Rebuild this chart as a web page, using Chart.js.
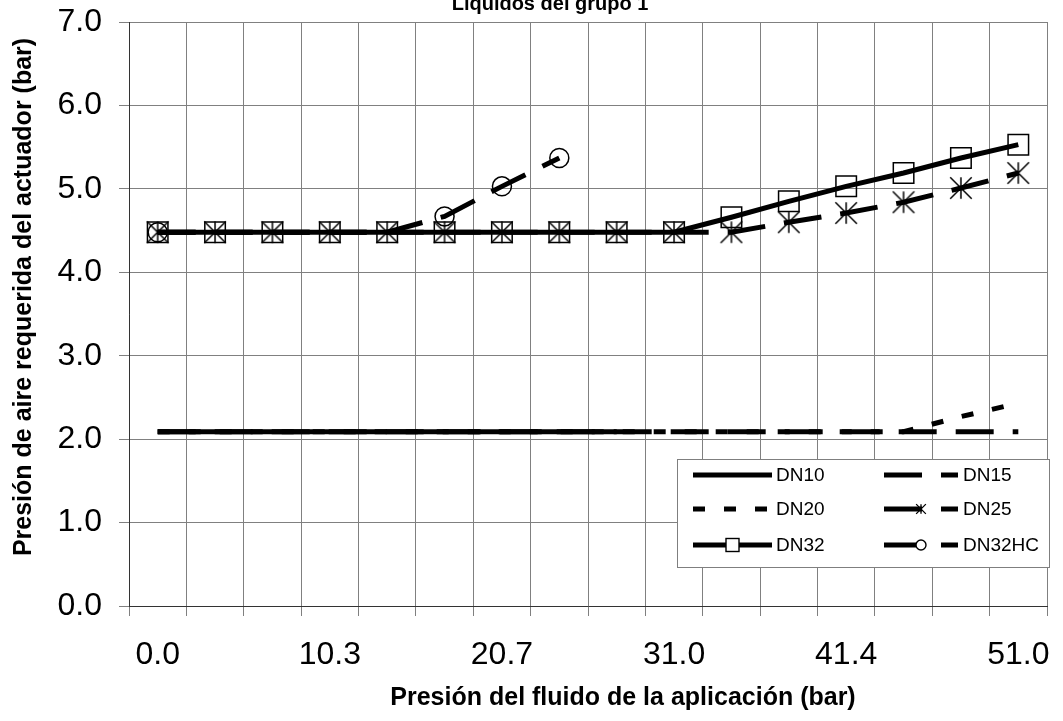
<!DOCTYPE html>
<html>
<head>
<meta charset="utf-8">
<script src="https://cdn.jsdelivr.net/npm/chart.js@4.4.1/dist/chart.umd.min.js"></script>
<style>
html,body{margin:0;padding:0;background:#fff;}
#wrap{width:1063px;height:721px;position:relative;}
canvas{display:block;}
</style>
</head>
<body>
<div id="wrap"><canvas id="c" width="1063" height="721"></canvas></div>
<script>
// ---- data ----
const categories = ['0.0','3.4','6.9','10.3','13.8','17.2','20.7','24.1','27.6','31.0','34.5','37.9','41.4','44.8','48.3','51.0'];
const labelEvery = 3;
const yTickValues = [0,1,2,3,4,5,6,7];
const seriesNames = ['DN10','DN15','DN20','DN25','DN32','DN32HC'];
const dn10   = [2.09,2.09,2.09,2.09,2.09,2.09,2.09,2.09,2.09,null,null,null,null,null,null,null];
const dn15   = [2.09,2.09,2.09,2.09,2.09,2.09,2.09,2.09,2.09,2.09,2.09,2.09,2.09,2.09,2.09,2.09];
const dn20   = [2.09,2.09,2.09,2.09,2.09,2.09,2.09,2.09,2.09,2.09,2.09,2.09,2.09,2.09,2.27,2.43];
const dn25   = [4.48,4.48,4.48,4.48,4.48,4.48,4.48,4.48,4.48,4.48,4.48,4.60,4.71,4.84,5.01,5.19];
const dn32   = [4.48,4.48,4.48,4.48,4.48,4.48,4.48,4.48,4.48,4.48,4.66,4.85,5.03,5.19,5.37,5.53];
const dn32hc = [4.48,4.48,4.48,4.48,4.48,4.67,5.03,5.37,null,null,null,null,null,null,null,null];
const chartTitle = 'Líquidos del grupo 1';
const xTitle = 'Presión del fluido de la aplicación (bar)';
const yTitle = 'Presión de aire requerida del actuador (bar)';

const FONT = '"Liberation Sans", Arial, Helvetica, sans-serif';

function makeAsterisk(size, lw) {
  const cv = document.createElement('canvas');
  cv.width = size; cv.height = size;
  const g = cv.getContext('2d');
  g.strokeStyle = '#000'; g.lineWidth = lw;
  const m = lw / 2 + 0.5, s = size;
  g.beginPath();
  g.moveTo(s / 2, m); g.lineTo(s / 2, s - m);
  g.moveTo(m, m); g.lineTo(s - m, s - m);
  g.moveTo(s - m, m); g.lineTo(m, s - m);
  g.stroke();
  return cv;
}
const asteriskBig = makeAsterisk(24, 1.5);
const asteriskSmall = makeAsterisk(12, 1.3);

const LONG_DASH = [38, 19];
const SHORT_DASH = [12, 19];

function lineDs(label, data, dash, extra) {
  return Object.assign({
    label, data,
    borderColor: '#000', borderWidth: 5, borderDash: dash, borderCapStyle: 'butt', borderJoinStyle: 'miter',
    tension: 0, fill: false, spanGaps: false,
    pointRadius: 0, pointHoverRadius: 0,
    pointBorderColor: '#000', pointBackgroundColor: 'rgba(0,0,0,0)', pointBorderWidth: 1.5
  }, extra || {});
}

const datasets = [
  lineDs(seriesNames[0], dn10, []),
  lineDs(seriesNames[1], dn15, LONG_DASH),
  lineDs(seriesNames[2], dn20, SHORT_DASH),
  lineDs(seriesNames[3], dn25, LONG_DASH, {pointStyle: asteriskBig, pointRadius: 12, legendMarker: asteriskSmall}),
  lineDs(seriesNames[4], dn32, [], {pointStyle: 'rect', pointRadius: 14.5, legendMarker: 'rect'}),
  lineDs(seriesNames[5], dn32hc, LONG_DASH, {pointStyle: 'circle',
    pointRadius: dn32hc.map((v, i) => (i === 0 || i >= 5) ? 9.5 : 0), legendMarker: 'circle'})
];

const legendPlugin = {
  id: 'boxLegend',
  afterDatasetsDraw(chart) {
    const ctx = chart.ctx;
    const bx = 677, by = 459, bw = 372, bh = 108;
    ctx.save();
    ctx.fillStyle = '#fff';
    ctx.fillRect(bx, by, bw, bh);
    ctx.strokeStyle = '#7f7f7f'; ctx.lineWidth = 1;
    ctx.strokeRect(bx + 0.5, by + 0.5, bw, bh);
    const colX = [693, 884], colW = [79, 74], textX = [776, 963], rowY = [475, 509, 545];
    chart.data.datasets.forEach((ds, i) => {
      const c = i % 2, r = Math.floor(i / 2);
      const x0 = colX[c], x1 = x0 + colW[c], y = rowY[r];
      ctx.save();
      ctx.strokeStyle = '#000'; ctx.lineWidth = 5; ctx.lineCap = 'butt';
      ctx.setLineDash(ds.borderDash || []);
      ctx.beginPath(); ctx.moveTo(x0, y); ctx.lineTo(x1, y); ctx.stroke();
      ctx.setLineDash([]);
      const cx = (x0 + x1) / 2;
      if (ds.legendMarker === 'rect') {
        ctx.fillStyle = '#fff'; ctx.lineWidth = 1.4;
        ctx.fillRect(cx - 6.5, y - 6.5, 13, 13);
        ctx.strokeRect(cx - 6.5, y - 6.5, 13, 13);
      } else if (ds.legendMarker === 'circle') {
        ctx.fillStyle = '#fff'; ctx.lineWidth = 1.4;
        ctx.beginPath(); ctx.arc(cx, y, 5, 0, Math.PI * 2); ctx.fill(); ctx.stroke();
      } else if (ds.legendMarker) {
        ctx.drawImage(ds.legendMarker, cx - ds.legendMarker.width / 2, y - ds.legendMarker.height / 2);
      }
      ctx.restore();
      ctx.fillStyle = '#000';
      ctx.font = '19px ' + FONT;
      ctx.textAlign = 'left'; ctx.textBaseline = 'middle';
      ctx.fillText(ds.label, textX[c], y + 1);
    });
    ctx.restore();
  }
};

const titlesPlugin = {
  id: 'titlesText',
  afterDraw(chart) {
    const ctx = chart.ctx;
    ctx.save();
    ctx.fillStyle = '#000';
    ctx.textAlign = 'center';
    ctx.font = 'bold 20px ' + FONT;
    ctx.textBaseline = 'alphabetic';
    ctx.fillText(chartTitle, 550, 10);
    ctx.font = 'bold 25px ' + FONT;
    ctx.textBaseline = 'middle';
    ctx.fillText(xTitle, 623, 698);
    ctx.translate(24, 297);
    ctx.rotate(-Math.PI / 2);
    ctx.fillText(yTitle, 0, 0);
    ctx.restore();
  }
};

function zeroPad(s) { s.paddingTop = 0; s.paddingBottom = 0; s.paddingLeft = 0; s.paddingRight = 0; }

new Chart(document.getElementById('c'), {
  type: 'line',
  data: { labels: categories, datasets },
  options: {
    responsive: false,
    animation: false,
    devicePixelRatio: 1,
    layout: { padding: { top: 22, right: 11, left: 0, bottom: 0 } },
    plugins: { legend: { display: false }, title: { display: false }, tooltip: { enabled: false } },
    scales: {
      x: {
        type: 'category',
        offset: true,
        grid: { offset: true, color: '#808080', lineWidth: 1, tickLength: 10 },
        border: { color: '#333', width: 1 },
        ticks: {
          autoSkip: false, maxRotation: 0, minRotation: 0, padding: 20,
          color: '#000', font: { family: FONT, size: 32 },
          callback: (v, i) => (i % labelEvery === 0 ? categories[i] : '')
        },
        afterFit: (s) => { s.height = 115; zeroPad(s); }
      },
      y: {
        min: yTickValues[0], max: yTickValues[yTickValues.length - 1],
        afterBuildTicks: (s) => { s.ticks = yTickValues.map(v => ({ value: v })); },
        grid: { color: '#808080', lineWidth: 1, tickLength: 10 },
        border: { color: '#333', width: 1 },
        ticks: {
          padding: 17, color: '#000', font: { family: FONT, size: 32 },
          callback: (v) => Number(v).toFixed(1)
        },
        afterFit: (s) => { s.width = 129; zeroPad(s); }
      }
    }
  },
  plugins: [legendPlugin, titlesPlugin]
});
</script>
</body>
</html>
